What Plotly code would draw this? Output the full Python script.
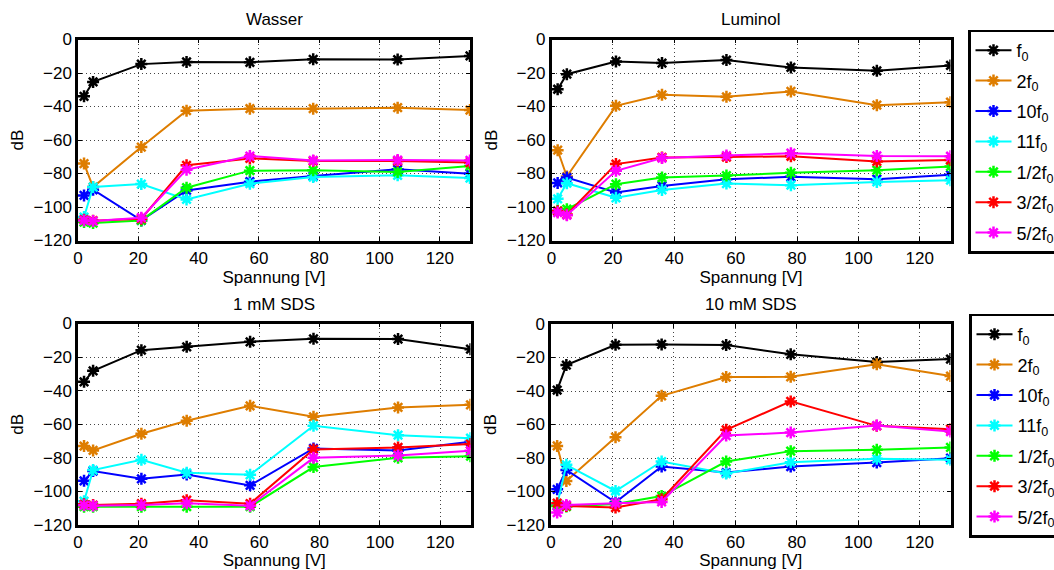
import plotly.graph_objects as go

# Spannung [V] at which each spectrum was recorded
spannung = [2, 5, 21, 36, 57, 78, 106, 130]

series_names = ["f<sub>0</sub>", "2f<sub>0</sub>", "10f<sub>0</sub>", "11f<sub>0</sub>",
                "1/2f<sub>0</sub>", "3/2f<sub>0</sub>", "5/2f<sub>0</sub>"]
series_colors = ["#000000", "#DE7D00", "#0000FF", "#00FFFF", "#00FF00", "#FF0000", "#FF00FF"]

# Amplitudes in dB, one list per harmonic
wasser_f0 = [-33.9, -25.3, -14.7, -13.4, -13.6, -11.8, -12.0, -9.8]
wasser_2f0 = [-74.1, -88.1, -64.2, -42.5, -41.3, -41.3, -40.7, -42.1]
wasser_10f0 = [-93.1, -89.7, -108.0, -90.1, -84.9, -81.5, -77.5, -80.1]
wasser_11f0 = [-106.0, -88.1, -86.3, -95.5, -86.1, -82.1, -81.1, -82.7]
wasser_h1 = [-109.0, -109.6, -108.0, -88.5, -78.3, -78.1, -79.1, -75.5]
wasser_h3 = [-107.6, -108.2, -107.0, -75.1, -71.0, -72.6, -72.6, -73.5]
wasser_h5 = [-108.0, -108.4, -106.4, -77.7, -69.6, -72.2, -72.0, -72.2]

luminol_f0 = [-29.7, -20.7, -13.1, -14.1, -12.3, -16.7, -18.7, -15.5]
luminol_2f0 = [-66.1, -81.8, -39.6, -33.0, -34.2, -31.0, -39.2, -37.4]
luminol_10f0 = [-85.6, -82.4, -91.3, -87.4, -83.4, -82.0, -83.4, -80.8]
luminol_11f0 = [-95.1, -85.8, -94.5, -89.8, -86.0, -87.0, -85.0, -84.0]
luminol_h1 = [-102.3, -101.3, -86.4, -82.4, -81.2, -79.6, -78.0, -75.8]
luminol_h3 = [-102.5, -104.5, -74.4, -70.4, -70.2, -69.7, -72.8, -72.0]
luminol_h5 = [-103.3, -104.9, -78.4, -70.8, -69.3, -67.9, -69.5, -69.7]

sds1_f0 = [-34.7, -28.2, -15.9, -13.9, -10.9, -9.1, -9.3, -15.3]
sds1_2f0 = [-73.0, -75.6, -65.7, -57.9, -49.0, -55.6, -50.0, -48.4]
sds1_10f0 = [-93.7, -87.9, -92.5, -89.9, -96.4, -74.4, -75.6, -70.4]
sds1_11f0 = [-105.8, -87.3, -81.2, -88.9, -90.1, -60.9, -66.5, -68.3]
sds1_h1 = [-109.1, -109.1, -109.1, -109.1, -109.1, -85.5, -80.0, -79.0]
sds1_h3 = [-107.7, -108.1, -107.3, -105.2, -107.3, -75.0, -73.8, -71.8]
sds1_h5 = [-108.3, -108.5, -108.1, -107.1, -108.5, -80.0, -78.6, -75.8]

sds10_f0 = [-39.5, -24.5, -12.4, -12.2, -12.6, -18.1, -22.7, -20.9]
sds10_2f0 = [-72.8, -93.7, -67.6, -42.9, -31.7, -31.5, -24.1, -31.1]
sds10_10f0 = [-98.7, -87.1, -106.4, -85.1, -88.7, -85.1, -82.7, -80.1]
sds10_11f0 = [-108.0, -84.1, -99.7, -82.1, -89.3, -82.5, -80.5, -81.1]
sds10_h1 = [-108.6, -109.0, -107.4, -102.7, -82.1, -75.9, -75.1, -73.7]
sds10_h3 = [-107.0, -108.6, -109.6, -104.6, -63.2, -46.2, -60.8, -62.8]
sds10_h5 = [-112.6, -108.0, -107.0, -106.2, -66.6, -64.8, -60.6, -64.2]

panels = [
    ("Wasser", [wasser_f0, wasser_2f0, wasser_10f0, wasser_11f0, wasser_h1, wasser_h3, wasser_h5]),
    ("Luminol", [luminol_f0, luminol_2f0, luminol_10f0, luminol_11f0, luminol_h1, luminol_h3, luminol_h5]),
    ("1 mM SDS", [sds1_f0, sds1_2f0, sds1_10f0, sds1_11f0, sds1_h1, sds1_h3, sds1_h5]),
    ("10 mM SDS", [sds10_f0, sds10_2f0, sds10_10f0, sds10_11f0, sds10_h1, sds10_h3, sds10_h5]),
]

W, H = 1054, 570
# plot boxes in pixels: (left, right, top, bottom)
boxes = [(78, 470, 39.5, 240.5), (551.5, 950.5, 39.5, 240.5),
         (78, 470.5, 323.5, 525), (551, 950.5, 324, 525)]
# which legend (if any) lists the traces of each panel
legend_of = [None, "legend", None, "legend2"]

FONT = "Liberation Sans, Arial, Helvetica, sans-serif"

fig = go.Figure()
layout = dict(width=W, height=H, margin=dict(l=0, r=0, t=0, b=0, autoexpand=False),
              paper_bgcolor="white", plot_bgcolor="white",
              font=dict(family=FONT, size=17, color="black"),
              annotations=[])

for i, (title, ys) in enumerate(panels):
    n = i + 1
    xa = "x" if n == 1 else f"x{n}"
    ya = "y" if n == 1 else f"y{n}"
    group_row = "top" if i < 2 else "bottom"
    for j, (name, color, yv) in enumerate(zip(series_names, series_colors, ys)):
        tr = go.Scatter(
            x=spannung, y=yv, xaxis=xa, yaxis=ya, mode="lines+markers", name=name,
            line=dict(color=color, width=2),
            marker=dict(symbol="asterisk-open", size=10, color=color,
                        line=dict(color=color, width=2.5)),
            legendgroup=f"{group_row}{j}",
            showlegend=legend_of[i] is not None,
        )
        if legend_of[i] is not None:
            tr.legend = legend_of[i]
        fig.add_trace(tr)

    l, r, t, b = boxes[i]
    axis_common = dict(showline=True, linecolor="black", linewidth=2.5, mirror="ticks",
                       ticks="inside", ticklen=4, tickwidth=1, tickcolor="black",
                       showgrid=True, gridcolor="#444444", griddash="1px,3px", gridwidth=1,
                       zeroline=False, tickfont=dict(size=17, family=FONT))
    xkey = "xaxis" if n == 1 else f"xaxis{n}"
    ykey = "yaxis" if n == 1 else f"yaxis{n}"
    layout[xkey] = dict(axis_common, domain=[l / W, r / W], anchor=ya, range=[0, 130],
                        tickvals=[0, 20, 40, 60, 80, 100, 120],
                        title=dict(text="Spannung [V]", standoff=1, font=dict(size=17)))
    layout[ykey] = dict(axis_common, domain=[1 - b / H, 1 - t / H], anchor=xa,
                        range=[-120, 0], tickvals=[-120, -100, -80, -60, -40, -20, 0],
                        title=dict(text="dB", standoff=6, font=dict(size=17)))
    layout["annotations"].append(dict(
        text=title, xref="paper", yref="paper", x=(l + r) / 2 / W, y=1 - t / H,
        xanchor="center", yanchor="bottom", yshift=8, showarrow=False,
        font=dict(size=17, family=FONT)))

legend_common = dict(xanchor="left", yanchor="top", bgcolor="white",
                     bordercolor="black", borderwidth=2.5,
                     font=dict(size=18, family=FONT), tracegroupgap=4,
                     itemwidth=36, itemclick="toggle")
layout["legend"] = dict(legend_common, x=968 / W, y=1 - 29.5 / H)
layout["legend2"] = dict(legend_common, x=969 / W, y=1 - 313.5 / H)

fig.update_layout(**layout)
fig.write_html("out.html")
